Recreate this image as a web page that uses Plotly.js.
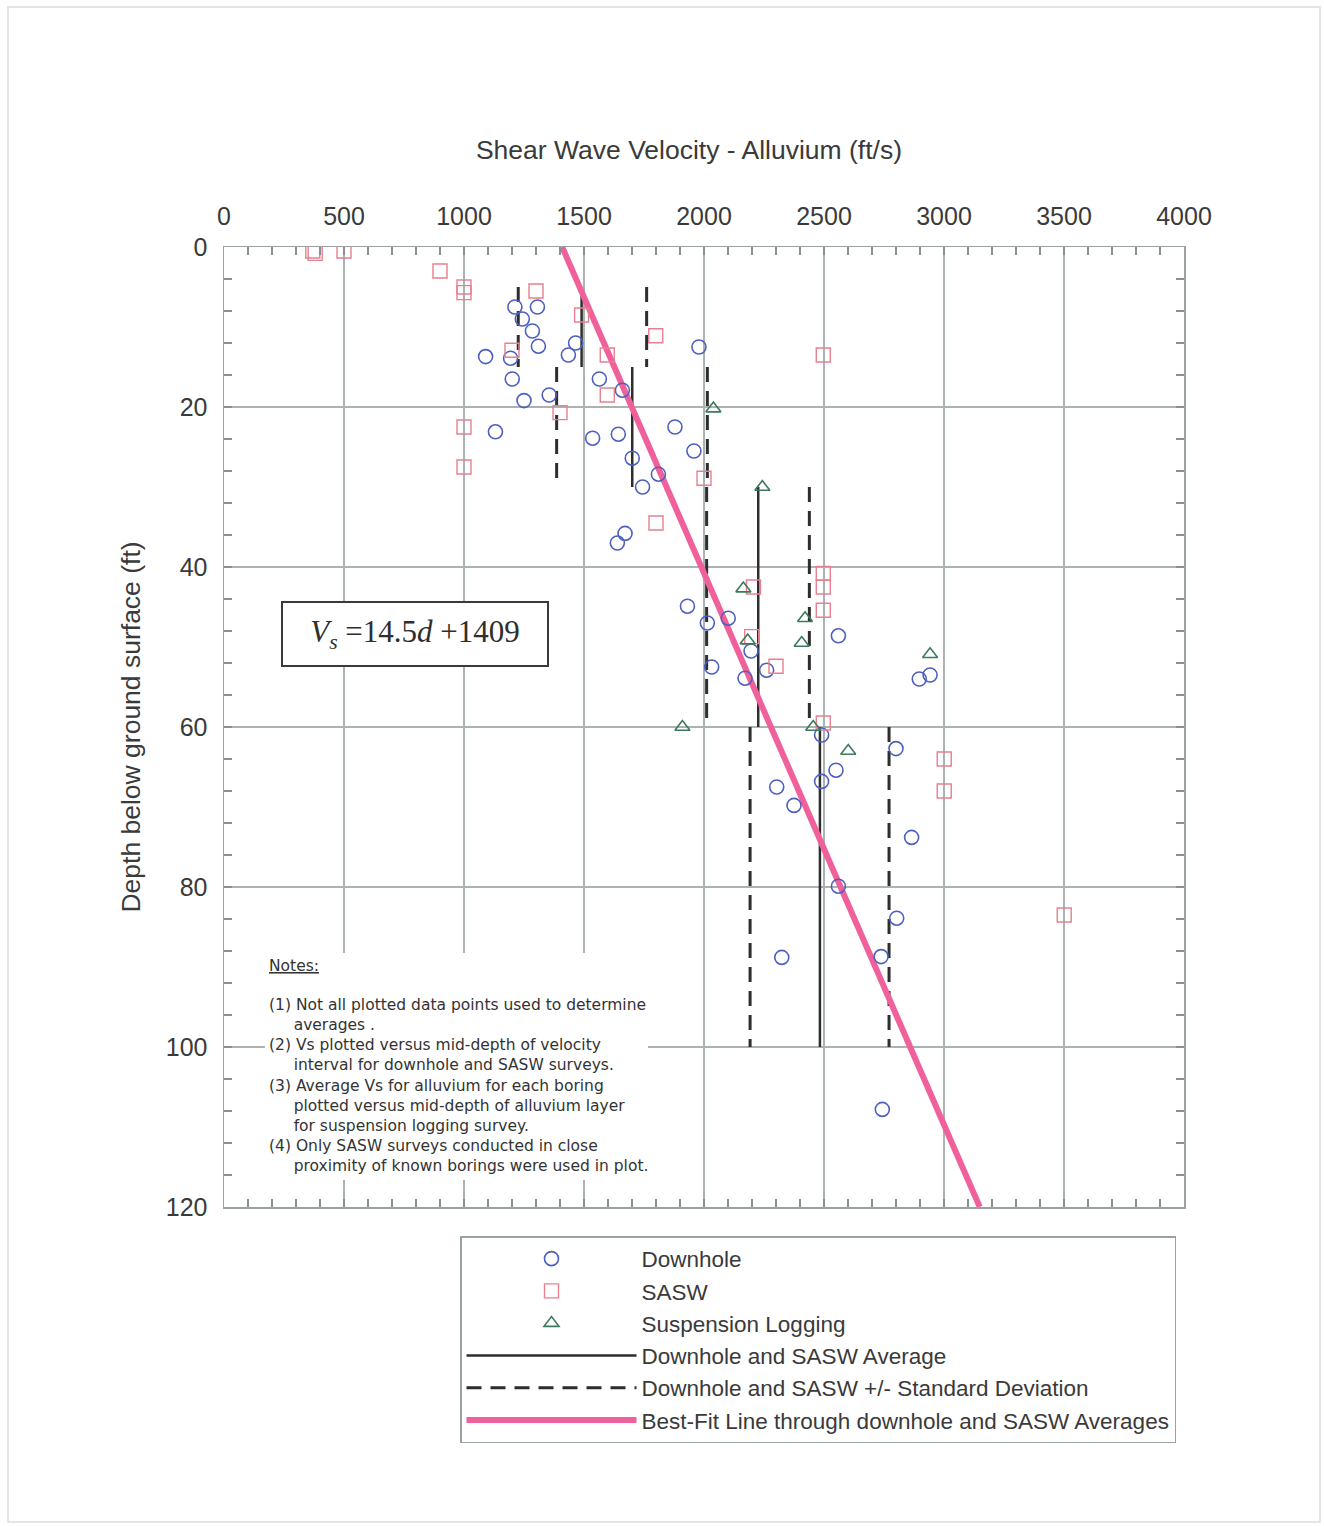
<!DOCTYPE html>
<html>
<head>
<meta charset="utf-8">
<script src="https://cdn.plot.ly/plotly-3.0.1.min.js"></script>
<style>
  html, body { margin: 0; padding: 0; background: #ffffff; }
  #chart { width: 1324px; height: 1526px; }
</style>
</head>
<body>
<div id="chart"></div>
<script>
// ---- Data ----
// Downhole measurements: shear wave velocity (ft/s) vs depth (ft)
const downholeVs = [1212, 1306, 1243, 1285, 1310, 1465, 1435, 1090, 1194, 1201, 1564, 1660, 1250, 1355, 1979,
  1131, 1536, 1643, 1879, 1958, 1701, 1810, 1744, 1671, 1639, 1931, 2014, 2101, 2032, 2196, 2171, 2261, 2560,
  2897, 2942, 2490, 2800, 2550, 2490, 2303, 2375, 2865, 2560, 2803, 2324, 2738, 2743];
const downholeDepth = [7.5, 7.5, 9.0, 10.5, 12.4, 12.0, 13.5, 13.7, 13.9, 16.5, 16.5, 17.9, 19.2, 18.5, 12.5,
  23.1, 23.9, 23.4, 22.5, 25.5, 26.4, 28.4, 30.0, 35.8, 37.0, 44.9, 47.0, 46.4, 52.5, 50.5, 53.9, 52.9, 48.6,
  54.0, 53.5, 61.0, 62.7, 65.4, 66.8, 67.5, 69.8, 73.8, 79.9, 83.9, 88.8, 88.7, 107.8];

// SASW measurements
const saswVs = [370, 380, 500, 900, 1000, 1000, 1300, 1490, 1799, 1200, 1597, 1597, 1400, 1000, 1000, 2000,
  1800, 2497, 2497, 2497, 2497, 2206, 2199, 2300, 2497, 3001, 3001, 3501];
const saswDepth = [0.5, 0.8, 0.5, 3.0, 5.0, 5.7, 5.5, 8.5, 11.1, 12.9, 13.5, 18.5, 20.7, 22.5, 27.5, 28.9,
  34.5, 13.5, 40.8, 42.5, 45.4, 42.5, 48.7, 52.4, 59.5, 64.0, 68.0, 83.5];

// Suspension logging
const suspVs = [2039, 2243, 2164, 2182, 2421, 2407, 2942, 1910, 2455, 2601];
const suspDepth = [20.2, 30.0, 42.7, 49.2, 46.4, 49.5, 50.9, 60.0, 60.0, 63.0];

// Layer averages and +/- standard deviation (downhole and SASW)
const layerTop = [5, 15, 30, 60];
const layerBottom = [15, 30, 60, 100];
const layerAvg = [1490, 1701, 2226, 2483];
const layerSdLow = [1226, 1386, 2011, 2192];
const layerSdHigh = [1761, 2014, 2439, 2771];

// Best-fit line end points (Vs = 14.5d + 1409)
const fitDepth = [0, 120];
const fitVs = [1409, 3149];

// Axis ticks
const xTicks = [0, 500, 1000, 1500, 2000, 2500, 3000, 3500, 4000];
const yTicks = [0, 20, 40, 60, 80, 100, 120];

// Notes text lines
const notesTitle = 'Notes:';
const notesLines = [
  '(1) Not all plotted data points used to determine',
  '     averages .',
  '(2) Vs plotted versus mid-depth of velocity',
  '     interval for downhole and SASW surveys.',
  '(3) Average Vs for alluvium for each boring',
  '     plotted versus mid-depth of alluvium layer',
  '     for suspension logging survey.',
  '(4) Only SASW surveys conducted in close',
  '     proximity of known borings were used in plot.'
];

// ---- Build segment traces from the layer arrays ----
const avgX = [], avgY = [], sdX = [], sdY = [];
for (let i = 0; i < layerTop.length; i++) {
  avgX.push(layerAvg[i], layerAvg[i], null);
  avgY.push(layerTop[i], layerBottom[i], null);
  sdX.push(layerSdLow[i], layerSdLow[i], null, layerSdHigh[i], layerSdHigh[i], null);
  sdY.push(layerTop[i], layerBottom[i], null, layerTop[i], layerBottom[i], null);
}

const FONT = '"Liberation Sans", Arial, sans-serif';
const TXT = '#3a3a3a';

const traces = [
  {
    x: sdX, y: sdY, mode: 'lines', name: 'Downhole and SASW +/- Standard Deviation',
    line: {color: '#2e2e2e', width: 3, dash: '15px,9px'}, legendrank: 5, legendgroup: 'g5', hoverinfo: 'skip'
  },
  {
    x: avgX, y: avgY, mode: 'lines', name: 'Downhole and SASW Average',
    line: {color: '#2e2e2e', width: 2.5}, legendrank: 4, legendgroup: 'g4', hoverinfo: 'skip'
  },
  {
    x: fitVs, y: fitDepth, mode: 'lines', name: 'Best-Fit Line through downhole and SASW Averages',
    line: {color: '#f0609a', width: 6}, legendrank: 6, legendgroup: 'g6'
  },
  {
    x: downholeVs, y: downholeDepth, mode: 'markers', name: 'Downhole',
    marker: {symbol: 'circle-open', size: 14, color: '#4d5fc0', line: {width: 1.6, color: '#4d5fc0'}},
    legendrank: 1, legendgroup: 'g1'
  },
  {
    x: saswVs, y: saswDepth, mode: 'markers', name: 'SASW',
    marker: {symbol: 'square-open', size: 14, color: '#e8808f', line: {width: 1.4, color: '#e8808f'}},
    legendrank: 2, legendgroup: 'g2'
  },
  {
    x: suspVs, y: suspDepth, mode: 'markers', name: 'Suspension Logging',
    marker: {symbol: 'triangle-up-open', size: 13, color: '#3d7a5c', line: {width: 1.6, color: '#3d7a5c'}},
    legendrank: 3, legendgroup: 'g3'
  }
];

const PL = 224, PR = 1184, PT = 247, PB = 1207;
const W = 1324, H = 1526;
function px(xPix) { return (xPix - PL) / (PR - PL); }
function py(yPix) { return (PB - yPix) / (PB - PT); }

const NB = s => s.replace(/^ +/, m => '\u00a0'.repeat(m.length));

const layout = {
  width: W, height: H,
  margin: {l: PL, r: W - PR, t: PT, b: H - PB, pad: 0},
  paper_bgcolor: '#ffffff', plot_bgcolor: '#ffffff',
  font: {family: FONT, color: TXT, size: 24},
  title: {
    text: 'Shear Wave Velocity - Alluvium (ft/s)',
    font: {family: FONT, size: 26.5, color: TXT},
    xref: 'container', yref: 'container', x: 689 / W, y: 1 - 150 / H,
    xanchor: 'center', yanchor: 'middle'
  },
  xaxis: {
    range: [0, 4000], side: 'top', tickvals: xTicks, ticktext: xTicks.map(String),
    showgrid: true, gridcolor: '#aab2b2', gridwidth: 1.5,
    showline: true, linecolor: '#9aa2a2', linewidth: 1.5, mirror: 'allticks',
    ticks: 'inside', ticklen: 8, tickcolor: '#8a9090', tickwidth: 1.2,
    minor: {dtick: 100, tick0: 0, ticks: 'inside', ticklen: 8, tickcolor: '#8a9090', tickwidth: 1.2, showgrid: false},
    tickfont: {family: FONT, size: 25, color: TXT}, zeroline: false, fixedrange: true,
    ticklabelstandoff: 11
  },
  yaxis: {
    range: [120, 0], tickvals: yTicks, ticktext: yTicks.map(String),
    showgrid: true, gridcolor: '#aab2b2', gridwidth: 1.5,
    showline: true, linecolor: '#9aa2a2', linewidth: 1.5, mirror: 'allticks',
    ticks: 'inside', ticklen: 8, tickcolor: '#8a9090', tickwidth: 1.2,
    minor: {dtick: 4, tick0: 0, ticks: 'inside', ticklen: 8, tickcolor: '#8a9090', tickwidth: 1.2, showgrid: false},
    tickfont: {family: FONT, size: 25, color: TXT}, zeroline: false, fixedrange: true,
    ticklabelstandoff: 10,
    title: {text: 'Depth below ground surface (ft)', font: {family: FONT, size: 26.5, color: TXT}, standoff: 17}
  },
  showlegend: true,
  legend: {
    x: px(460), y: py(1236), xanchor: 'left', yanchor: 'top',
    bgcolor: '#ffffff', bordercolor: '#9aa2a2', borderwidth: 1.5,
    font: {family: FONT, size: 22.5, color: TXT},
    itemwidth: 170, tracegroupgap: 0, traceorder: 'grouped'
  },
  annotations: [
    {
      xref: 'paper', yref: 'paper', x: px(415), y: py(634), xanchor: 'center', yanchor: 'middle',
      text: '<i>V</i><sub><i>s</i></sub> =14.5<i>d</i> +1409', showarrow: false,
      font: {family: '"Liberation Serif", "Times New Roman", serif', size: 31, color: '#2e2e2e'},
      bgcolor: '#ffffff', bordercolor: '#3a3a3a', borderwidth: 2, width: 262, height: 60, align: 'center'
    },
    {
      xref: 'paper', yref: 'paper', x: px(267), y: py(955), xanchor: 'left', yanchor: 'top',
      align: 'left', showarrow: false,
      font: {family: '"DejaVu Sans", sans-serif', size: 15.5, color: '#333333'},
      text: '<u>' + notesTitle + '</u>'
    },
    {
      xref: 'paper', yref: 'paper', x: px(267), y: py(994), xanchor: 'left', yanchor: 'top',
      align: 'left', showarrow: false,
      font: {family: '"DejaVu Sans", sans-serif', size: 15.5, color: '#333333'},
      text: notesLines.map(NB).join('<br>')
    }
  ],
  shapes: [
    {
      type: 'rect', xref: 'paper', yref: 'paper', x0: px(8), x1: px(1320), y0: py(1522), y1: py(7),
      line: {color: '#dcdcdc', width: 1.5}, layer: 'below'
    },
    {
      type: 'rect', xref: 'paper', yref: 'paper', x0: px(265), x1: px(648), y0: py(1180), y1: py(953),
      fillcolor: '#ffffff', line: {width: 0}, layer: 'above'
    }
  ]
};

Plotly.newPlot('chart', traces, layout, {displayModeBar: false, staticPlot: true});
</script>
</body>
</html>
